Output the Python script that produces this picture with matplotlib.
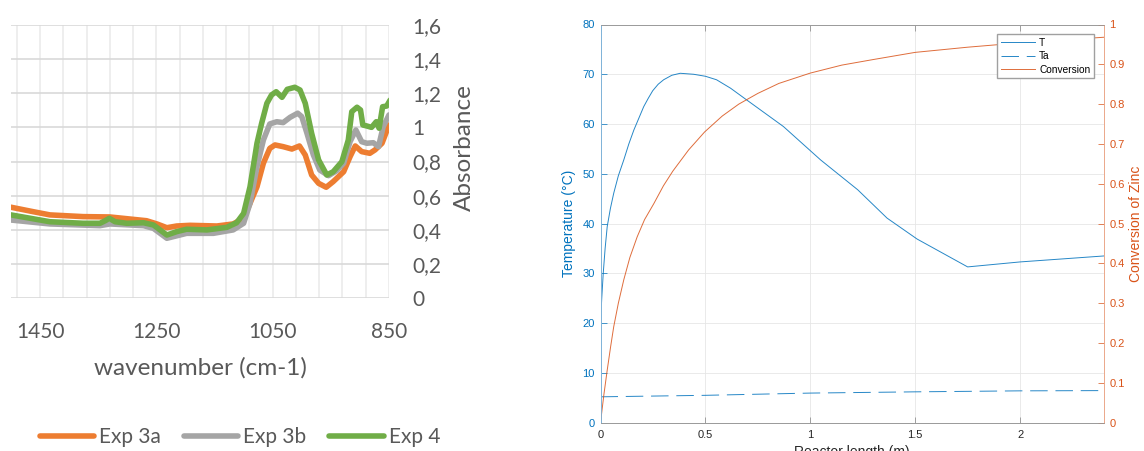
import matplotlib.pyplot as plt
from matplotlib.ticker import FuncFormatter, MultipleLocator

# ---------- left panel: FTIR spectra (wavenumber in cm-1, absorbance) ----------
wn_3a = [1500, 1462, 1433, 1376, 1330, 1290, 1267, 1249, 1232, 1215, 1192, 1146, 1118,
         1100, 1089, 1077, 1066, 1055, 1046, 1032, 1017, 1004, 994, 983, 971, 958, 946,
         928, 917, 908, 897, 883, 874, 862, 850]
abs_3a = [0.532, 0.506, 0.487, 0.477, 0.475, 0.461, 0.453, 0.434, 0.412, 0.422, 0.426,
          0.422, 0.434, 0.467, 0.555, 0.652, 0.79, 0.877, 0.897, 0.887, 0.873, 0.891,
          0.838, 0.721, 0.672, 0.649, 0.682, 0.74, 0.828, 0.891, 0.858, 0.848, 0.868,
          0.907, 1.014]

wn_3b = [1500, 1433, 1347, 1330, 1272, 1255, 1232, 1198, 1152, 1118, 1100, 1089, 1077,
         1066, 1055, 1043, 1032, 1020, 1007, 1000, 991, 980, 969, 954, 940, 928, 917,
         907, 897, 888, 877, 868, 860, 850]
abs_3b = [0.457, 0.434, 0.424, 0.434, 0.424, 0.408, 0.35, 0.379, 0.379, 0.399, 0.438,
          0.555, 0.77, 0.926, 1.02, 1.033, 1.028, 1.059, 1.083, 1.063, 0.965, 0.838,
          0.75, 0.717, 0.746, 0.79, 0.916, 0.985, 0.916, 0.907, 0.91, 0.887, 1.004,
          1.073]

wn_4 = [1500, 1433, 1376, 1347, 1338, 1331, 1321, 1301, 1272, 1255, 1232, 1215, 1198,
        1163, 1129, 1112, 1100, 1089, 1077, 1069, 1060, 1052, 1044, 1034, 1025, 1012,
        1003, 994, 983, 971, 957, 946, 931, 920, 914, 905, 899, 895, 888, 880, 872, 867,
        861, 854, 848]
abs_4 = [0.487, 0.447, 0.438, 0.438, 0.453, 0.467, 0.447, 0.438, 0.441, 0.428, 0.369,
         0.389, 0.403, 0.399, 0.414, 0.441, 0.496, 0.652, 0.907, 1.024, 1.141, 1.19,
         1.209, 1.176, 1.223, 1.235, 1.219, 1.141, 0.965, 0.809, 0.721, 0.74, 0.799,
         0.926, 1.092, 1.118, 1.102, 1.014, 1.008, 1.0, 1.033, 0.995, 1.121, 1.125, 1.16]

wn_labels = [1450, 1250, 1050, 850]

# ---------- right panel: reactor profile ----------
length_T = [0, 0.006, 0.013, 0.022, 0.032, 0.047, 0.063, 0.085, 0.111, 0.135, 0.159,
            0.183, 0.206, 0.228, 0.249, 0.275, 0.301, 0.34, 0.38, 0.444, 0.5, 0.553,
            0.62, 0.695, 0.872, 1.049, 1.226, 1.366, 1.509, 1.75, 2.0, 2.4]
temp_T = [20, 25, 30, 35, 39.4, 43, 46.1, 49.6, 52.8, 56, 58.8, 61.2, 63.5, 65.2, 66.7,
          68, 68.9, 69.8, 70.2, 70.0, 69.6, 68.9, 67.2, 64.9, 59.5, 52.8, 46.8, 41.1,
          36.9, 31.3, 32.3, 33.5]

length_Ta = [0, 0.5, 1.0, 1.5, 2.0, 2.4]
temp_Ta = [5.2, 5.5, 5.95, 6.2, 6.4, 6.45]

length_X = [0, 0.016, 0.032, 0.048, 0.063, 0.085, 0.111, 0.14, 0.175, 0.21, 0.254, 0.3,
            0.345, 0.42, 0.496, 0.58, 0.659, 0.75, 0.85, 1.0, 1.15, 1.3, 1.5, 1.75, 2.0,
            2.2, 2.4]
conversion = [0, 0.07, 0.132, 0.19, 0.241, 0.30, 0.359, 0.415, 0.467, 0.51, 0.55, 0.595,
              0.632, 0.685, 0.73, 0.77, 0.80, 0.827, 0.852, 0.878, 0.898, 0.912, 0.93,
              0.943, 0.954, 0.961, 0.968]

W, H = 1144, 451
fig = plt.figure(figsize=(W / 100, H / 100), dpi=100)

# Excel-like left chart
grey_txt = "#595959"
xl_font = "Lato"
ax1 = fig.add_axes([11 / W, 1 - 298 / H, 378 / W, 273 / H])
ax1.plot(wn_3a, abs_3a, color="#ED7D31", lw=4, solid_joinstyle="round", solid_capstyle="round", label="Exp 3a")
ax1.plot(wn_3b, abs_3b, color="#A5A5A5", lw=4, solid_joinstyle="round", solid_capstyle="round", label="Exp 3b")
ax1.plot(wn_4, abs_4, color="#70AD47", lw=4, solid_joinstyle="round", solid_capstyle="round", label="Exp 4")
ax1.set_xlim(1500, 850)
ax1.set_ylim(0, 1.6)
ax1.set_xticks(list(range(850, 1500, 40)))
ax1.set_xticklabels([str(v) if v in wn_labels else "" for v in range(850, 1500, 40)])
ax1.yaxis.set_major_locator(MultipleLocator(0.2))
ax1.yaxis.set_major_formatter(FuncFormatter(lambda v, p: f"{v:g}".replace(".", ",")))
ax1.yaxis.tick_right()
ax1.grid(axis="y", color="#d9d9d9", lw=1.2)
ax1.grid(axis="x", color="#ebebeb", lw=1.2)
ax1.set_axisbelow(True)
for s in ax1.spines.values():
    s.set_visible(False)
ax1.tick_params(axis="x", length=0, pad=17, labelsize=15, labelcolor=grey_txt)
ax1.tick_params(axis="y", length=0, pad=17, labelsize=15, labelcolor=grey_txt)
for t in ax1.get_xticklabels() + ax1.get_yticklabels():
    t.set_fontfamily(xl_font)
fig.text(200 / W, 1 - 368 / H, "wavenumber (cm-1)", ha="center", va="center",
         fontsize=17.5, color=grey_txt, family=xl_font)
fig.text(464 / W, 1 - 148 / H, "Absorbance", ha="center", va="center", rotation=90,
         fontsize=17.5, color=grey_txt, family=xl_font)
h, l = ax1.get_legend_handles_labels()
fig.legend(h, l, loc="center", bbox_to_anchor=(240 / W, 1 - 437 / H), ncol=3, frameon=False,
           prop={"family": xl_font, "size": 15}, labelcolor=grey_txt,
           handlelength=2.6, handletextpad=0.25, columnspacing=1.1)

# MATLAB-like right chart
blue = "#0072BD"
orange = "#D95319"
ml_font = "Liberation Sans"
ax2 = fig.add_axes([600.5 / W, 1 - 422.7 / H, 503.5 / W, 398.2 / H])
ax3 = ax2.twinx()
lT, = ax2.plot(length_T, temp_T, color=blue, lw=0.7, alpha=0.85, label="T")
lTa, = ax2.plot(length_Ta, temp_Ta, color=blue, lw=0.7, alpha=0.85, dashes=(18, 8), label="Ta")
lX, = ax3.plot(length_X, conversion, color=orange, lw=0.7, alpha=0.85, label="Conversion")
ax2.set_xlim(0, 2.4)
ax2.set_ylim(0, 80)
ax3.set_ylim(0, 1)
ax2.xaxis.set_major_locator(MultipleLocator(0.5))
ax2.yaxis.set_major_locator(MultipleLocator(10))
ax3.yaxis.set_major_locator(MultipleLocator(0.1))
fmt = FuncFormatter(lambda v, p: f"{v:g}")
ax2.xaxis.set_major_formatter(fmt)
ax2.yaxis.set_major_formatter(fmt)
ax3.yaxis.set_major_formatter(fmt)
ax2.grid(True, color="#e6e6e6", lw=0.6)
ax2.set_axisbelow(True)
ax2.tick_params(axis="x", direction="in", length=4, width=0.5, top=True, color="#808080",
                labelsize=8, labelcolor="#262626", pad=5)
ax2.tick_params(axis="y", direction="in", length=4, width=0.5, color=blue,
                labelsize=8, labelcolor=blue, pad=4)
ax3.tick_params(axis="y", direction="in", length=4, width=0.5, color=orange,
                labelsize=8, labelcolor=orange, pad=4)
for a in (ax2, ax3):
    for t in a.get_xticklabels() + a.get_yticklabels():
        t.set_fontfamily(ml_font)
    for s in a.spines.values():
        s.set_linewidth(0.6)
    a.spines["top"].set_color("#9a9a9a")
    a.spines["bottom"].set_color("#9a9a9a")
    a.spines["left"].set_color("#7fb3d9")
    a.spines["right"].set_color("#eba88a")
ax2.set_xlabel("Reactor length (m)", fontsize=10, color="#262626", family=ml_font, labelpad=4)
ax2.set_ylabel("Temperature (°C)", fontsize=10, color=blue, family=ml_font, labelpad=5)
ax3.set_ylabel("Conversion of Zinc", fontsize=10, color=orange, family=ml_font, labelpad=3)
fig.legend([lT, lTa, lX], ["T", "Ta", "Conversion"], loc="upper right",
           bbox_to_anchor=(1094 / W, 1 - 34 / H), borderaxespad=0, fancybox=False,
           framealpha=1, edgecolor="#a0a0a0", prop={"family": ml_font, "size": 7.3},
           handlelength=3.4, handletextpad=0.4, labelspacing=0.35, borderpad=0.35)

fig.savefig("out.png", dpi=100)
